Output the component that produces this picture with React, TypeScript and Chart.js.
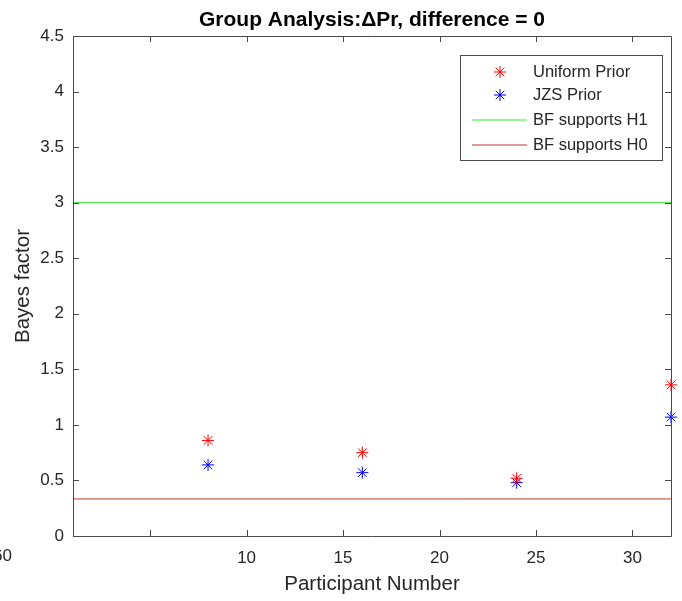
import React, { useEffect, useRef } from "react";
import { Chart, registerables } from "chart.js";

Chart.register(...registerables);

// Participant counts and Bayes factors per prior
const participants = [8, 16, 24, 32];
const uniformPrior = [0.86, 0.75, 0.52, 1.36];
const jzsPrior = [0.64, 0.57, 0.48, 1.07];

// Evidence thresholds
const h1Threshold = 3;
const h0Threshold = 1 / 3;
const xRange = [1, 32];

// Tick definitions
const xTickValues = [5, 10, 15, 20, 25, 30];
const xTickLabels = ["", "10", "15", "20", "25", "30"];
const yTickValues = [0, 0.5, 1, 1.5, 2, 2.5, 3, 3.5, 4, 4.5];
const yTickLabels = ["0", "0.5", "1", "1.5", "2", "2.5", "3", "3.5", "4", "4.5"];

const titleText = "Group Analysis:\u0394Pr, difference = 0";
const FONT = "'Liberation Sans', Arial, Helvetica, sans-serif";
const AXIS_COLOR = "#4a4a4a";
const TEXT_COLOR = "#262626";
const RED = "#ff0000";
const BLUE = "#0000ff";
const GREEN = "#33ee33";
const DARK_RED = "#c03636";

function drawAsterisk(ctx: CanvasRenderingContext2D, x: number, y: number, r: number, color: string) {
  const d = Math.cos(Math.PI / 4) * r;
  ctx.save();
  ctx.strokeStyle = color;
  ctx.lineWidth = 1;
  ctx.beginPath();
  ctx.moveTo(x - r, y);
  ctx.lineTo(x + r, y);
  ctx.moveTo(x, y - r);
  ctx.lineTo(x, y + r);
  ctx.moveTo(x - d, y - d);
  ctx.lineTo(x + d, y + d);
  ctx.moveTo(x - d, y + d);
  ctx.lineTo(x + d, y - d);
  ctx.stroke();
  ctx.restore();
}

// Box, inward tick marks, title, and in-axes legend
const axesDecor = {
  id: "axesDecor",
  afterDatasetsDraw(chart: any) {
    const { ctx, chartArea } = chart;
    const { left, right, top, bottom } = chartArea;
    const xs = chart.scales.x;
    const ys = chart.scales.y;
    const tl = 6;
    ctx.save();
    ctx.strokeStyle = AXIS_COLOR;
    ctx.lineWidth = 1;
    ctx.beginPath();
    ctx.rect(Math.round(left) + 0.5, Math.round(top) + 0.5, Math.round(right - left), Math.round(bottom - top));
    ctx.stroke();
    ctx.beginPath();
    xs.ticks.forEach((t: any) => {
      const px = Math.round(xs.getPixelForValue(t.value)) + 0.5;
      ctx.moveTo(px, bottom);
      ctx.lineTo(px, bottom - tl);
      ctx.moveTo(px, top);
      ctx.lineTo(px, top + tl);
    });
    ys.ticks.forEach((t: any) => {
      const py = Math.round(ys.getPixelForValue(t.value)) + 0.5;
      ctx.moveTo(left, py);
      ctx.lineTo(left + tl, py);
      ctx.moveTo(right, py);
      ctx.lineTo(right - tl, py);
    });
    ctx.stroke();

    // title
    ctx.fillStyle = "#000000";
    ctx.font = `bold 21px ${FONT}`;
    ctx.textAlign = "center";
    ctx.textBaseline = "middle";
    ctx.fillText(titleText, (left + right) / 2, 20);

    // stray tick text at the left edge
    ctx.fillStyle = TEXT_COLOR;
    ctx.font = `17px ${FONT}`;
    ctx.textAlign = "right";
    ctx.textBaseline = "top";
    ctx.fillText("60", 12, bottom + 12);

    // legend
    const bx = right - 211;
    const by = top + 19;
    const bw = 202;
    const bh = 105;
    ctx.fillStyle = "#ffffff";
    ctx.fillRect(bx, by, bw, bh);
    ctx.strokeStyle = AXIS_COLOR;
    ctx.strokeRect(bx + 0.5, by + 0.5, bw, bh);
    const rows = [17, 40, 65, 90];
    chart.data.datasets.forEach((ds: any, i: number) => {
      const ry = by + rows[i];
      if (ds.showLine) {
        ctx.strokeStyle = ds.borderColor;
        ctx.lineWidth = 1;
        ctx.beginPath();
        ctx.moveTo(bx + 12, ry);
        ctx.lineTo(bx + 67, ry);
        ctx.stroke();
      } else {
        drawAsterisk(ctx, bx + 40, ry, 6, ds.borderColor);
      }
      ctx.fillStyle = TEXT_COLOR;
      ctx.font = `16.5px ${FONT}`;
      ctx.textAlign = "left";
      ctx.textBaseline = "middle";
      ctx.fillText(ds.label, bx + 73, ry);
    });
    ctx.restore();
  },
};

export default function App() {
  const ref = useRef<HTMLCanvasElement | null>(null);

  useEffect(() => {
    if (!ref.current) return;
    const markers = (label: string, values: number[], color: string) => ({
      label,
      data: participants.map((p, i) => ({ x: p, y: values[i] })),
      borderColor: color,
      backgroundColor: color,
      pointStyle: "star",
      pointRadius: 6,
      pointBorderWidth: 1,
      showLine: false,
      clip: false,
    });
    const threshold = (label: string, value: number, color: string) => ({
      label,
      data: xRange.map((x) => ({ x, y: value })),
      borderColor: color,
      borderWidth: 1,
      pointRadius: 0,
      showLine: true,
    });

    const chart = new Chart(ref.current, {
      type: "scatter",
      data: {
        datasets: [
          markers("Uniform Prior", uniformPrior, RED),
          markers("JZS Prior", jzsPrior, BLUE),
          threshold("BF supports H1", h1Threshold, GREEN),
          threshold("BF supports H0", h0Threshold, DARK_RED),
        ] as any,
      },
      options: {
        animation: false,
        responsive: false,
        layout: { padding: { top: 36, right: 11, left: 0, bottom: 0 } },
        plugins: {
          legend: { display: false },
          title: { display: false },
          tooltip: { enabled: false },
        },
        scales: {
          x: {
            type: "linear",
            min: xRange[0],
            max: xRange[1],
            afterBuildTicks: (scale: any) => {
              scale.ticks = xTickValues.map((v) => ({ value: v }));
            },
            afterFit: (scale: any) => {
              scale.height = 65;
            },
            grid: { display: false, drawTicks: false },
            border: { display: false },
            ticks: {
              padding: 12,
              color: TEXT_COLOR,
              font: { family: FONT, size: 17 },
              maxRotation: 0,
              autoSkip: false,
              callback: (v: any) => {
                const i = xTickValues.indexOf(Number(v));
                return i >= 0 ? xTickLabels[i] : "";
              },
            },
            title: {
              display: true,
              text: "Participant Number",
              color: TEXT_COLOR,
              font: { family: FONT, size: 20.5 },
              padding: { top: 0, bottom: 4 },
            },
          },
          y: {
            type: "linear",
            min: 0,
            max: 4.5,
            afterBuildTicks: (scale: any) => {
              scale.ticks = yTickValues.map((v) => ({ value: v }));
            },
            afterFit: (scale: any) => {
              scale.width = 73;
            },
            grid: { display: false, drawTicks: false },
            border: { display: false },
            ticks: {
              padding: 9,
              color: TEXT_COLOR,
              font: { family: FONT, size: 17 },
              autoSkip: false,
              callback: (v: any) => {
                const i = yTickValues.indexOf(Number(v));
                return i >= 0 ? yTickLabels[i] : "";
              },
            },
            title: {
              display: true,
              text: "Bayes factor",
              color: TEXT_COLOR,
              font: { family: FONT, size: 20.5 },
              padding: { top: 11, bottom: 0 },
            },
          },
        },
      },
      plugins: [axesDecor],
    } as any);
    return () => chart.destroy();
  }, []);

  return (
    <div style={{ position: "absolute", left: 0, top: 0, width: 682, height: 601, background: "#ffffff" }}>
      <canvas ref={ref} width={682} height={601} />
    </div>
  );
}
